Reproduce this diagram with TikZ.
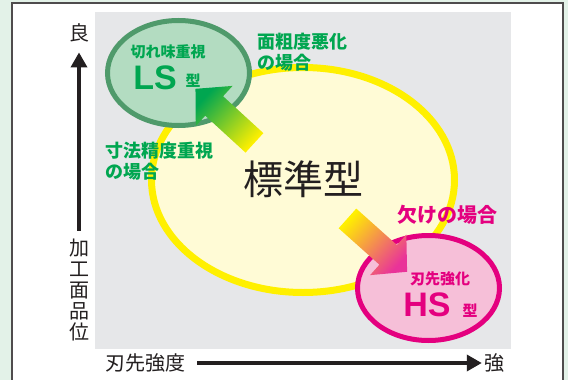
\documentclass[tikz,border=0pt]{standalone}
\usepackage{fontspec}
\setmainfont{Noto Sans CJK JP}
\newfontfamily\latinfont{Liberation Sans}
\usetikzlibrary{arrows.meta,shapes.geometric,shapes.arrows}

\definecolor{pagegreen}{HTML}{E3F2E8}
\definecolor{plotgray}{HTML}{E6E7E9}
\definecolor{inkblack}{HTML}{231F20}
\definecolor{stdfill}{HTML}{FFFBD6}
\definecolor{stdline}{HTML}{FFF000}
\definecolor{lsfill}{HTML}{B3DCC1}
\definecolor{lsline}{HTML}{4F9A6B}
\definecolor{lsgreen}{HTML}{00A650}
\definecolor{hsfill}{HTML}{F6BFD8}
\definecolor{hsline}{HTML}{E4007F}

\begin{document}
\begin{tikzpicture}[x=1pt, y=-1pt,
    axisline/.style={line width=3.5pt, draw=inkblack, -{Triangle[width=16pt,length=15pt]}},
    axislabel/.style={inner sep=0pt, text=inkblack, font=\fontsize{20}{21}\selectfont},
    greencap/.style={inner sep=0pt, text=lsgreen, align=left, font=\bfseries\fontsize{18}{21}\selectfont},
    pinkcap/.style={inner sep=0pt, text=hsline, font=\bfseries\fontsize{20}{22}\selectfont},
    typename/.style={inner sep=0pt, font=\latinfont\bfseries\fontsize{34}{34}\selectfont},
    fatarrow/.style={single arrow, draw=none, inner sep=13pt, minimum height=80pt,
      single arrow head extend=14pt, single arrow tip angle=94, shading=axis}]
  \useasboundingbox (0,0) rectangle (568,380);
  %% page and frame
  \fill[pagegreen] (0,0) rectangle (568,380);
  \draw[line width=1.5pt, draw=inkblack!80, fill=white] (12,3) rectangle (563,395);
  \fill[plotgray] (95,12) rectangle (511,349);

  %% the three types
  \node[ellipse, draw=stdline, line width=7pt, fill=stdfill, minimum width=303pt, minimum height=225pt] (std) at (303,180) {};
  \node[ellipse, draw=lsline, line width=5pt, fill=lsfill, minimum width=142pt, minimum height=105pt] (ls) at (178.5,73) {};
  \node[ellipse, draw=hsline, line width=5pt, fill=hsfill, minimum width=142pt, minimum height=105pt] (hs) at (428.5,288) {};

  %% arrows
  \node[fatarrow, top color=lsgreen, bottom color=stdline, shading angle=47.5, rotate=137.5] (tols) at (229.5,120) {};
  \node[fatarrow, top color=hsline!80, bottom color=stdline, shading angle=-131.8, rotate=-41.8] (tohs) at (372.7,241) {};

  %% texts
  \node[inner sep=0pt, text=inkblack, font=\fontsize{40}{40}\selectfont] (stdname) at (303,179) {標準型};
  \node[greencap, font=\bfseries\fontsize{15}{15}\selectfont] (lscap) at (168,52) {切れ味重視};
  \node[typename, text=lsgreen] (lsname) at (155,78) {LS};
  \node[greencap, font=\bfseries\fontsize{15}{15}\selectfont] (lstype) at (193,81) {型};
  \node[greencap, anchor=west] (rough) at (257,52) {面粗度悪化\\の場合};
  \node[greencap, anchor=west] (size) at (105,161) {寸法精度重視\\の場合};
  \node[pinkcap] (chip) at (447,215) {欠けの場合};
  \node[pinkcap, font=\bfseries\fontsize{15}{15}\selectfont] (hscap) at (440,279) {刃先強化};
  \node[typename, text=hsline] (hsname) at (427,305) {HS};
  \node[pinkcap, font=\bfseries\fontsize{15}{15}\selectfont] (hstype) at (470,311) {型};

  %% axes
  \node[axislabel] (good) at (79,33) {良};
  \node[axislabel, align=center] (quality) at (79,290) {加\\工\\面\\品\\位};
  \node[axislabel] (edge) at (145,363) {刃先強度};
  \node[axislabel] (strong) at (494,363) {強};
  \draw[axisline, shorten <=8pt, shorten >=10pt] (quality.north) -- (good.south);
  \draw[axisline, shorten <=12pt, shorten >=2pt] (edge.east) -- (strong.west);
\end{tikzpicture}
\end{document}
